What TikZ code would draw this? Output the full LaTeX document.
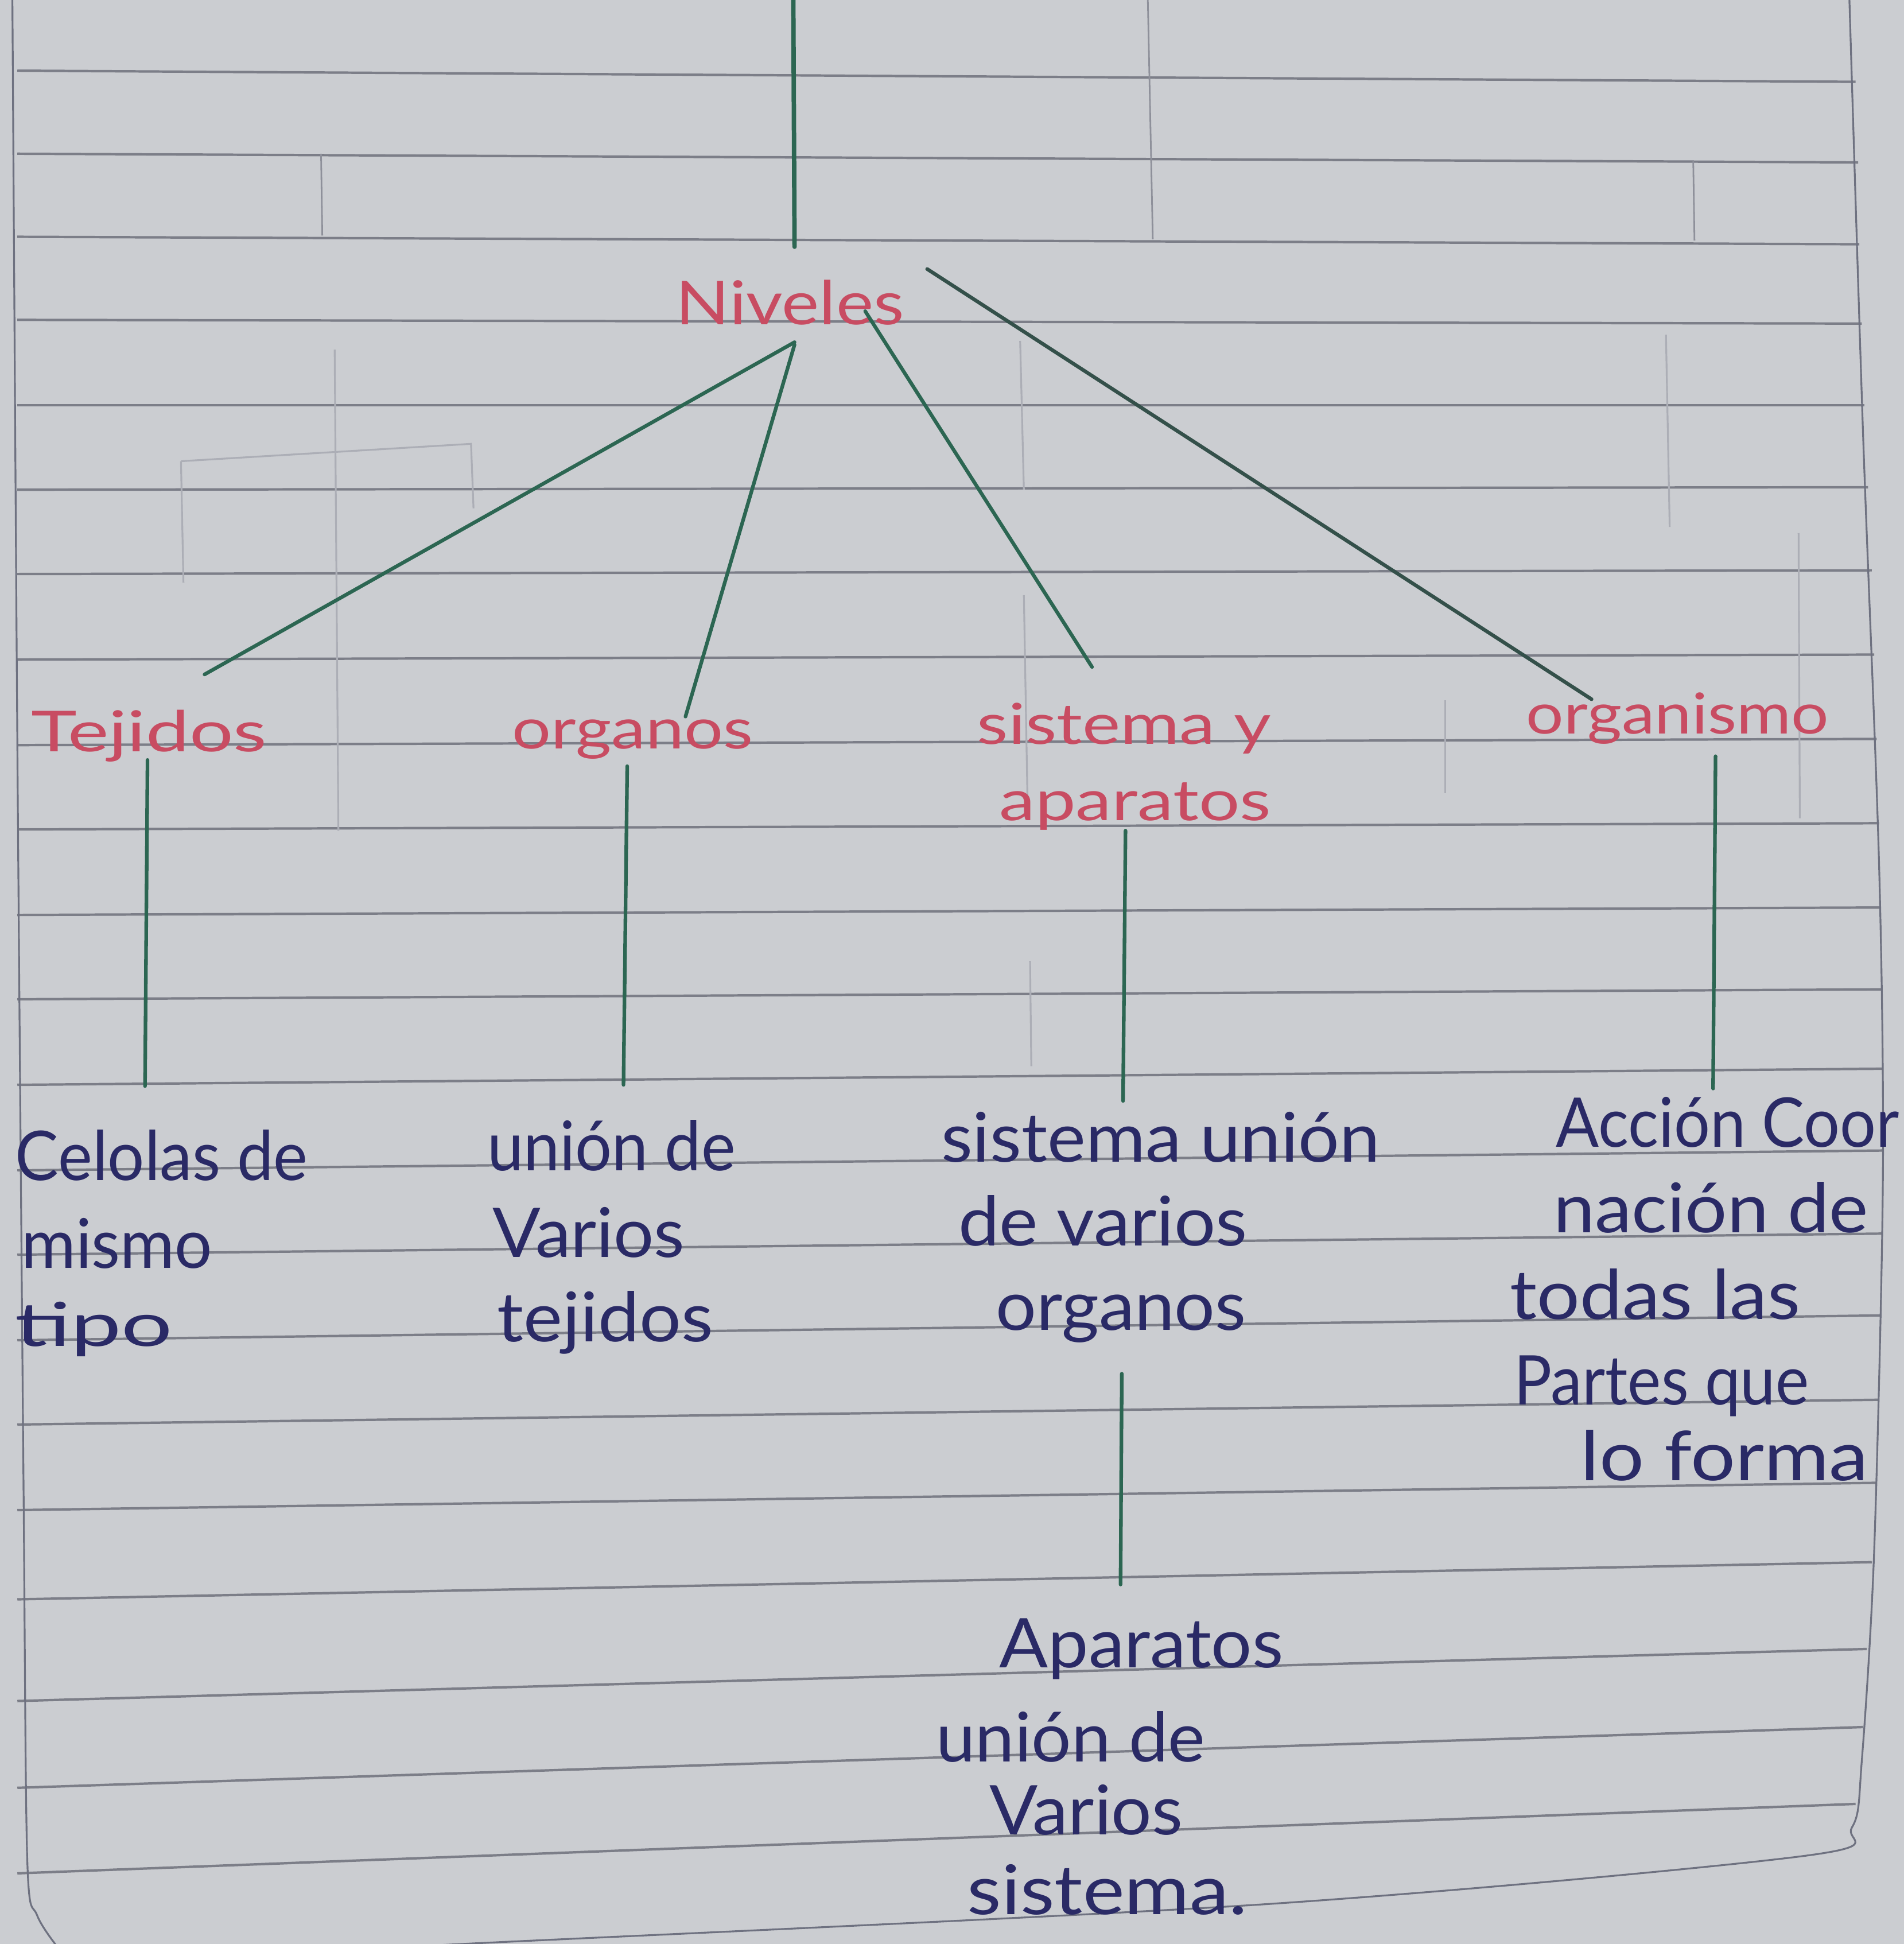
\documentclass[tikz,border=0pt]{standalone}
\usepackage{fontspec}
\setmainfont{Lato}
\usepackage{graphicx}
\newlength\px
\setlength\px{0.0216cm}
\newcommand\tw[2]{\resizebox{#1\px}{\height}{#2}}
\definecolor{paperc}{HTML}{CBCDD1}
\definecolor{rulec}{HTML}{7C7E88}
\definecolor{framec}{HTML}{6E7180}
\definecolor{bleedc}{HTML}{8E909A}
\definecolor{bleedf}{HTML}{ACAEB6}
\definecolor{greenc}{HTML}{2C6652}
\definecolor{greendk}{HTML}{34504A}
\definecolor{redc}{HTML}{C84C62}
\definecolor{navyc}{HTML}{2A2A66}
\tikzset{
  rule/.style={draw=rulec, line width=1.2pt},
  frame/.style={draw=framec, line width=0.9pt},
  bleed/.style={draw=bleedc, line width=0.8pt},
  bleedfaint/.style={draw=bleedf, line width=0.9pt},
  gline/.style={draw=greenc, line width=1.8pt, line cap=round},
  glinedark/.style={gline, draw=greendk},
  lbl/.style={text=redc, font=\fontsize{28}{30}\selectfont, inner sep=0pt, anchor=base west},
  note/.style={text=navyc, font=\fontsize{34}{36}\selectfont, inner sep=0pt, anchor=base west}
}
\begin{document}
\begin{tikzpicture}[x=0.0216cm, y=-0.0216cm]
\useasboundingbox (0,0) rectangle (1536,1568);
\fill[paperc] (0,0) rectangle (1536,1568);

% ruled lines: left y / right y / right x
\foreach \l/\r/\xr in {57/66/1497, 124/131/1499, 191/197/1500, 258/261/1502,
  327/327/1504, 395/393/1507, 463/460/1510, 532/528/1512, 601/596/1514,
  669/664/1516, 738/732/1517, 806/798/1518, 875/862/1519, 944/928/1519,
  1012/995/1518, 1081/1061/1517, 1149/1129/1516, 1218/1196/1514,
  1290/1260/1510, 1372/1330/1506, 1442/1393/1503, 1511/1455/1497}
  \draw[rule] (14,\l) -- (\xr,\r);

% page frame
\draw[frame] plot[smooth] coordinates {(10,0) (14,600) (19,1200) (22,1500) (30,1545) (50,1575)};
\draw[frame] plot[smooth] coordinates {(1492,0) (1503,350) (1516,700) (1519,950) (1512,1250) (1502,1420) (1494,1474) (1455,1497) (1019,1536) (372,1568) (300,1572)};

% show-through from the back of the page
\draw[bleed] (259,124) -- (260,190);
\draw[bleed] (926,0) -- (930,193);
\draw[bleed] (1366,130) -- (1367,194);
\draw[bleedfaint] (270,282) -- (273,670);
\draw[bleedfaint] (146,372) -- (380,358) -- (382,410);
\draw[bleedfaint] (146,372) -- (148,470);
\draw[bleedfaint] (823,275) -- (826,395);
\draw[bleedfaint] (826,480) -- (829,650);
\draw[bleedfaint] (1344,270) -- (1347,425);
\draw[bleedfaint] (1451,430) -- (1452,660);
\draw[bleedfaint] (1166,565) -- (1166,640);
\draw[bleedfaint] (831,775) -- (832,860);

% red level labels
\node[lbl, font=\fontsize{30}{32}\selectfont] (niv) at (545,262) {\tw{184}{Niveles}};
\node[lbl] (tej) at (25,606) {\tw{190}{Tejidos}};
\node[lbl] (org) at (413,604) {\tw{194}{organos}};
\node[lbl] (sis1) at (788,600) {\tw{237}{sistema y}};
\node[lbl] (sis2) at (806,662) {\tw{219}{aparatos}};
\node[lbl] (orgm) at (1231,592) {\tw{244}{organismo}};

% navy descriptions
\node[note] (c1) at (12,952) {\tw{236}{Celolas de}};
\node[note] (c2) at (17,1023) {\tw{154}{mismo}};
\node[note, font=\fontsize{30}{32}\selectfont] (c3) at (12,1086) {\tw{127}{tipo}};

\node[note] (u1) at (393,944) {\tw{200}{unión de}};
\node[note] (u2) at (397,1014) {\tw{155}{Varios}};
\node[note] (u3) at (401,1082) {\tw{174}{tejidos}};

\node[note] (s1) at (759,937) {\tw{354}{sistema unión}};
\node[note] (s2) at (773,1005) {\tw{233}{de varios}};
\node[note] (s3) at (803,1073) {\tw{202}{organos}};

\node[note] (a1) at (1255,925) {\tw{277}{Acción Coor}};
\node[note] (a2) at (1253,994) {\tw{254}{nación de}};
\node[note] (a3) at (1218,1064) {\tw{234}{todas las}};
\node[note] (a4) at (1221,1133) {\tw{238}{Partes que}};
\node[note] (a5) at (1275,1194) {\tw{232}{lo forma}};

\node[note] (p1) at (806,1345) {\tw{229}{Aparatos}};
\node[note] (p2) at (755,1421) {\tw{217}{unión de}};
\node[note] (p3) at (798,1480) {\tw{156}{Varios}};
\node[note] (p4) at (780,1544) {\tw{226}{sistema.}};

% connector end points
\coordinate (top) at (640,0);
\coordinate (nivT) at (641,199);
\coordinate (nivA) at (641,276);
\coordinate (nivB) at (641,278);
\coordinate (nivC) at (698,251);
\coordinate (nivD) at (748,217);
\coordinate (tejT) at (165,544);
\coordinate (orgT) at (553,578);
\coordinate (sisT) at (881,538);
\coordinate (orgmT) at (1284,564);
\coordinate (tejB) at (119,613);
\coordinate (c1T) at (117,876);
\coordinate (orgB) at (506,618);
\coordinate (u1T) at (503,875);
\coordinate (sisB) at (908,670);
\coordinate (s1T) at (906,888);
\coordinate (orgmB) at (1384,610);
\coordinate (a1T) at (1382,878);
\coordinate (s3B) at (905,1108);
\coordinate (p1T) at (904,1278);

% green connectors
\draw[gline, line width=2.2pt] (top) -- (nivT);
\draw[gline] (nivA) -- (tejT);
\draw[gline] (nivB) -- (orgT);
\draw[gline] (nivC) -- (sisT);
\draw[glinedark] (nivD) -- (orgmT);
\draw[gline] (tejB) -- (c1T);
\draw[gline] (orgB) -- (u1T);
\draw[gline] (sisB) -- (s1T);
\draw[gline] (orgmB) -- (a1T);
\draw[gline] (s3B) -- (p1T);
\end{tikzpicture}
\end{document}
